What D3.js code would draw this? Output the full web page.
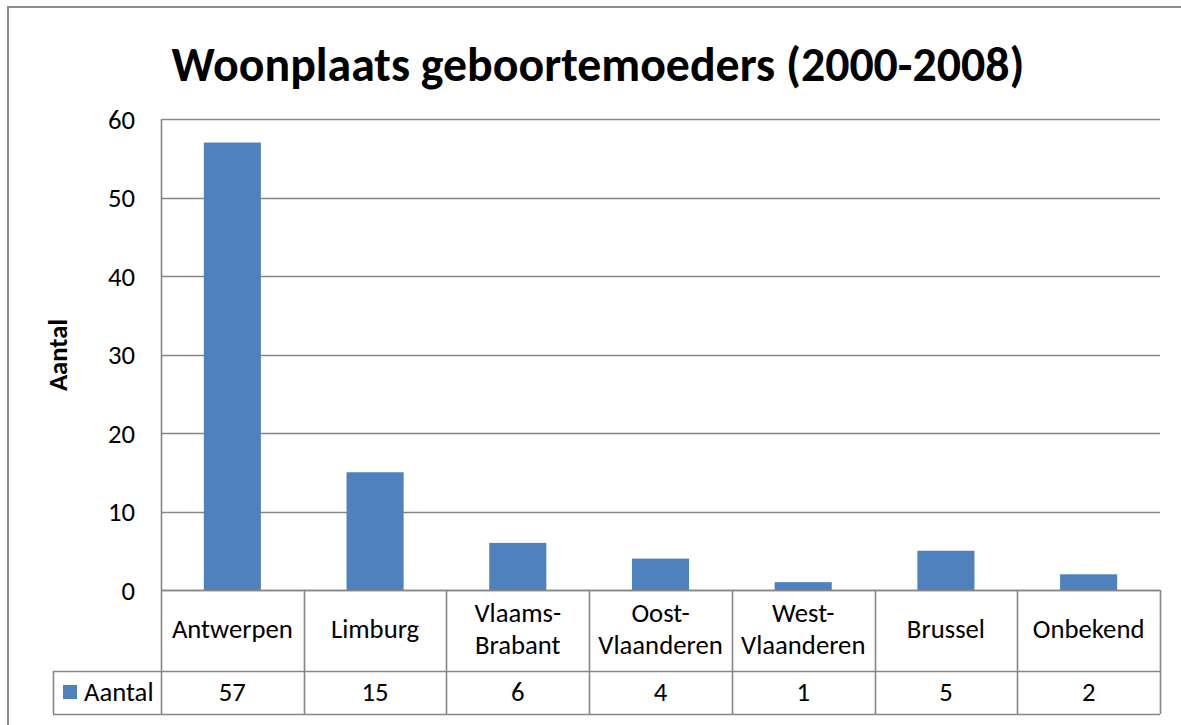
<!DOCTYPE html>
<html>
<head>
<meta charset="utf-8">
<script src="https://cdn.jsdelivr.net/npm/d3@7"></script>
<style>
  body { margin: 0; background: #fff; }
  svg { display: block; }
  text { font-family: Carlito, Calibri, Lato, sans-serif; fill: #000; }
</style>
</head>
<body>
<svg id="chart" width="1181" height="725"></svg>
<script>
// data
var categories = [ "Antwerpen", "Limburg", "Vlaams-Brabant", "Oost-Vlaanderen", "West-Vlaanderen", "Brussel", "Onbekend" ];
var catLines = [ [ "Antwerpen" ], [ "Limburg" ], [ "Vlaams-", "Brabant" ], [ "Oost-", "Vlaanderen" ],
		[ "West-", "Vlaanderen" ], [ "Brussel" ], [ "Onbekend" ] ];
var aantal = [ 57, 15, 6, 4, 1, 5, 2 ];
var yTicks = [ 0, 10, 20, 30, 40, 50, 60 ];
var seriesName = "Aantal";
var title = "Woonplaats geboortemoeders (2000-2008)";

var gridColor = "#868686";
var barColor = "#4F81BD";
var fontSize = "26.7px";

var svg = d3.select("#chart");

var plot = { left: 161, right: 1160, top: 119, bottom: 590 };
var rowCat = 671, rowVal = 714, legendLeft = 53;

// chart border (runs off right and bottom)
svg.append("path")
	.attr("d", "M8,725 V7 H1181")
	.attr("fill", "none")
	.attr("stroke", "#8c8c8c")
	.attr("stroke-width", 2);

var y = d3.scaleLinear().domain([ 0, 60 ]).range([ plot.bottom, plot.top ]);
var xCell = d3.scaleBand().domain(categories).range([ plot.left, plot.right ]);
var x = d3.scaleBand().domain(categories).range([ plot.left, plot.right ])
		.paddingInner(0.6).paddingOuter(0.3);

// gridlines
svg.append("g").selectAll("line").data(yTicks).enter().append("line")
	.attr("x1", plot.left).attr("x2", plot.right)
	.attr("y1", function(d) { return Math.round(y(d)) + 0.5; })
	.attr("y2", function(d) { return Math.round(y(d)) + 0.5; })
	.attr("stroke", gridColor).attr("stroke-width", 1.6);

// y axis labels
var yAxis = d3.axisLeft(y).tickValues(yTicks).tickSize(0).tickPadding(26);
var yAxisG = svg.append("g").attr("transform", "translate(" + plot.left + ",0)").call(yAxis);
yAxisG.select(".domain").remove();
yAxisG.selectAll("text").style("font-size", fontSize).attr("font-family", null).attr("dy", "0.35em");

// bars
svg.append("g").selectAll("rect").data(aantal).enter().append("rect")
	.attr("x", function(d, i) { return x(categories[i]); })
	.attr("width", x.bandwidth())
	.attr("y", function(d) { return y(d); })
	.attr("height", function(d) { return y(0) - y(d); })
	.attr("fill", barColor);

// axis line
svg.append("line")
	.attr("x1", plot.left + 0.5).attr("x2", plot.left + 0.5)
	.attr("y1", plot.top).attr("y2", rowVal)
	.attr("stroke", gridColor).attr("stroke-width", 1.6);

// data table
var table = svg.append("g").attr("stroke", gridColor).attr("stroke-width", 1.6);
table.append("line").attr("x1", plot.left).attr("x2", plot.right).attr("y1", plot.bottom + 0.5).attr("y2", plot.bottom + 0.5);
table.append("line").attr("x1", legendLeft).attr("x2", plot.right).attr("y1", rowCat + 0.5).attr("y2", rowCat + 0.5);
table.append("line").attr("x1", legendLeft).attr("x2", plot.right).attr("y1", rowVal + 0.5).attr("y2", rowVal + 0.5);
table.append("line").attr("x1", legendLeft + 0.5).attr("x2", legendLeft + 0.5).attr("y1", rowCat).attr("y2", rowVal);
table.selectAll(".vline").data(categories).enter().append("line")
	.attr("class", "vline")
	.attr("x1", function(d) { return Math.round(xCell(d) + xCell.bandwidth()) + 0.5; })
	.attr("x2", function(d) { return Math.round(xCell(d) + xCell.bandwidth()) + 0.5; })
	.attr("y1", plot.bottom).attr("y2", rowVal);

// category labels
var catG = svg.append("g").selectAll("text").data(categories).enter().append("text")
	.attr("text-anchor", "middle")
	.style("font-size", fontSize)
	.attr("x", function(d) { return xCell(d) + xCell.bandwidth() / 2; })
	.attr("y", function(d, i) { return catLines[i].length == 1 ? 638 : 622; });
catG.each(function(d, i) {
	var t = d3.select(this);
	catLines[i].forEach(function(line, j) {
		t.append("tspan")
			.attr("x", xCell(d) + xCell.bandwidth() / 2)
			.attr("dy", j == 0 ? 0 : 32)
			.text(line);
	});
});

// values row
svg.append("g").selectAll("text").data(aantal).enter().append("text")
	.attr("text-anchor", "middle")
	.style("font-size", fontSize)
	.attr("x", function(d, i) { return xCell(categories[i]) + xCell.bandwidth() / 2; })
	.attr("y", 701)
	.text(function(d) { return d; });

// legend cell
svg.append("rect").attr("x", 63).attr("y", 685).attr("width", 14).attr("height", 14).attr("fill", barColor);
svg.append("text").attr("x", 84).attr("y", 701).style("font-size", fontSize).text(seriesName);

// y axis title
svg.append("text")
	.attr("transform", "translate(67,355) rotate(-90)")
	.attr("text-anchor", "middle")
	.style("font-size", fontSize)
	.style("font-weight", "bold")
	.text(seriesName);

// title, sized to the reference width
var titleText = svg.append("text")
	.attr("x", 598).attr("y", 81)
	.attr("text-anchor", "middle")
	.style("font-size", "40px")
	.style("font-weight", "bold")
	.text(title);
var w = titleText.node().getComputedTextLength();
titleText.style("font-size", (40 * 853 / w) + "px");
</script>
</body>
</html>
